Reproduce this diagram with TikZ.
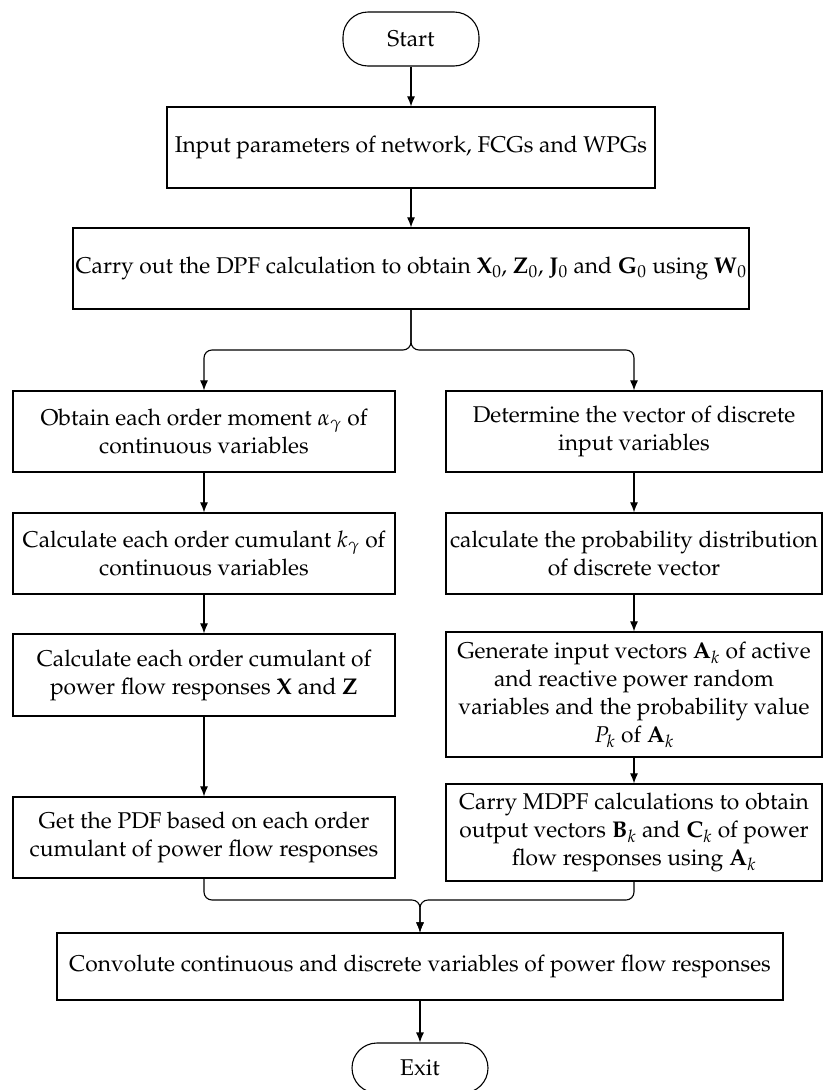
\documentclass[tikz,border=0pt]{standalone}
\usepackage[T1]{fontenc}
\usepackage{mathpazo}
\usetikzlibrary{arrows.meta}
\begin{document}
\begin{tikzpicture}[x=1pt, y=-1pt, >={Latex[length=10pt,width=8pt]},
    every node/.style={font=\fontsize{22.8}{28}\selectfont, align=center, inner sep=0pt},
    box/.style={draw, line width=1.2pt, minimum height=81pt},
    term/.style={draw, line width=1.1pt, rounded corners=25pt, minimum width=136pt},
    flow/.style={->, line width=1.1pt, rounded corners=8pt}]
\useasboundingbox (0,0) rectangle (824,1090);
% main column
\node[term, minimum height=54pt] (start) at (411,39) {Start};
\node[box, minimum width=488pt] (inp) at (411,147.5) {Input parameters of network, FCGs and WPGs};
\node[box, minimum width=676pt] (dpf) at (411,268.5) {Carry out the DPF calculation to obtain $\mathbf{X}_0$, $\mathbf{Z}_0$, $\mathbf{J}_0$ and $\mathbf{G}_0$ using $\mathbf{W}_0$};
% continuous branch
\node[box, minimum width=382pt] (mom) at (204,431.5) {Obtain each order moment $\alpha_\gamma$ of\\continuous variables};
\node[box, minimum width=382pt] (cum) at (204,553.5) {Calculate each order cumulant $k_\gamma$ of\\continuous variables};
\node[box, minimum width=382pt, minimum height=82pt] (resp) at (204,675) {Calculate each order cumulant of\\power flow responses $\mathbf{X}$ and $\mathbf{Z}$};
\node[box, minimum width=382pt] (pdf) at (204,837.5) {Get the PDF based on each order\\cumulant of power flow responses};
% discrete branch
\node[box, minimum width=376pt] (vec) at (634,431.5) {Determine the vector of discrete\\input variables};
\node[box, minimum width=376pt] (prob) at (634,553.5) {calculate the probability distribution\\of discrete vector};
\node[box, minimum width=376pt, minimum height=125pt] (gen) at (634,694.5) {Generate input vectors $\mathbf{A}_k$ of active\\and reactive power random\\variables and the probability value\\$P_k$ of $\mathbf{A}_k$};
\node[box, minimum width=376pt, minimum height=97pt] (mdpf) at (634,832.5) {Carry MDPF calculations to obtain\\output vectors $\mathbf{B}_k$ and $\mathbf{C}_k$ of power\\flow responses using $\mathbf{A}_k$};
% end
\node[box, minimum width=726pt, minimum height=67pt] (conv) at (420,966.5) {Convolute continuous and discrete variables of power flow responses};
\node[term, minimum height=50pt] (exit) at (420,1068) {Exit};
\coordinate (split) at (411,350);
\coordinate (join) at (420,900);

\draw[flow] (start)--(inp);
\draw[flow] (inp)--(dpf);
\draw[flow] (dpf.south)--(split)-|(mom.north);
\draw[flow] (dpf.south)--(split)-|(vec.north);
\draw[flow] (mom)--(cum);
\draw[flow] (cum)--(resp);
\draw[flow] (resp)--(pdf);
\draw[flow] (vec)--(prob);
\draw[flow] (prob)--(gen);
\draw[flow] (gen)--(mdpf);
\draw[flow] (pdf.south)|-(join)--(conv.north);
\draw[flow] (mdpf.south)|-(join)--(conv.north);
\draw[flow] (conv)--(exit);
\end{tikzpicture}
\end{document}
